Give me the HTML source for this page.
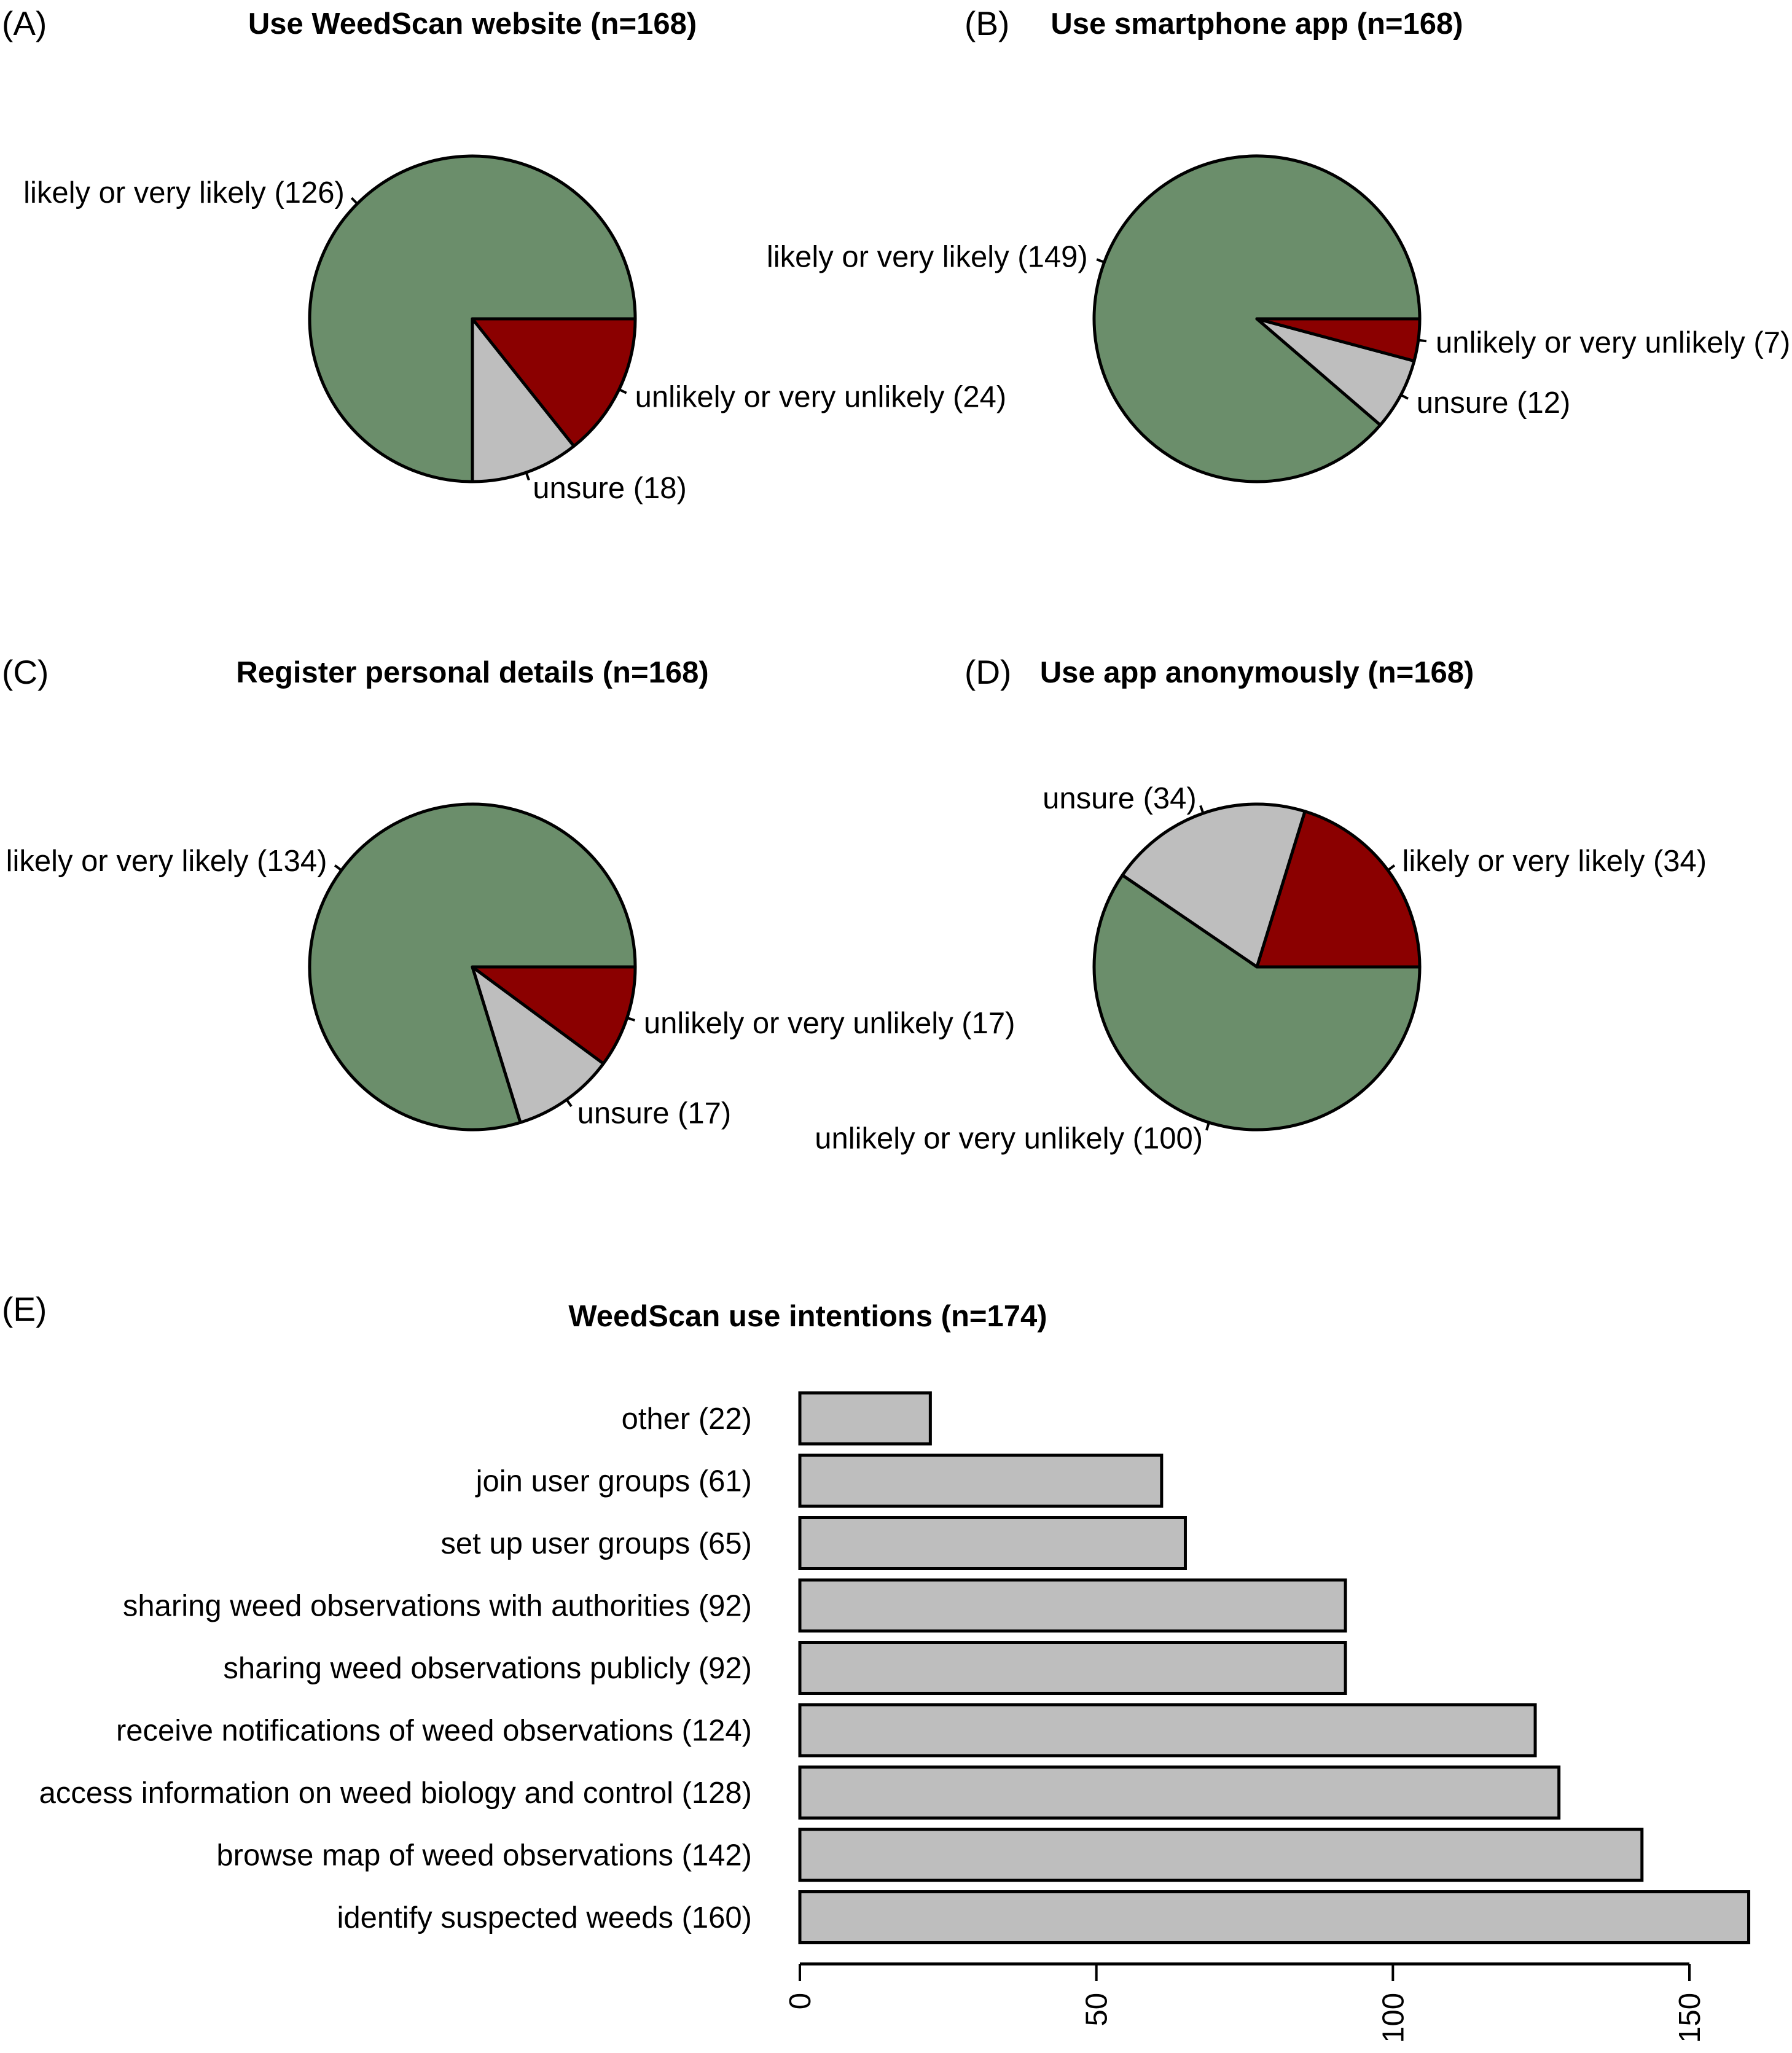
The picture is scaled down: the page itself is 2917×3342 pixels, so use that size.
<!DOCTYPE html>
<html><head><meta charset="utf-8"><style>
html,body{margin:0;padding:0;background:#fff;}
svg{display:block;font-family:"Liberation Sans",Arial,sans-serif;}
</style></head><body>
<svg id="fig" width="2917" height="3342" viewBox="0 0 2917 3342" xmlns="http://www.w3.org/2000/svg">
<rect width="2917" height="3342" fill="#fff"/>
</svg>
<script>
const pieTitles = ["Use WeedScan website (n=168)","Use smartphone app (n=168)","Register personal details (n=168)","Use app anonymously (n=168)"];
const pieLetters = ["(A)","(B)","(C)","(D)"];
const pieA_labels = ["likely or very likely","unsure","unlikely or very unlikely"];
const pieA_values = [126,18,24];
const pieB_labels = ["likely or very likely","unsure","unlikely or very unlikely"];
const pieB_values = [149,12,7];
const pieC_labels = ["likely or very likely","unsure","unlikely or very unlikely"];
const pieC_values = [134,17,17];
const pieD_labels = ["likely or very likely","unsure","unlikely or very unlikely"];
const pieD_values = [34,34,100];
const barCategories = ["other","join user groups","set up user groups","sharing weed observations with authorities","sharing weed observations publicly","receive notifications of weed observations","access information on weed biology and control","browse map of weed observations","identify suspected weeds"];
const barValues = [22,61,65,92,92,124,128,142,160];
const barTicks = [0,50,100,150];

const NS="http://www.w3.org/2000/svg";
const svg=document.getElementById('fig');
function mk(tag,attrs,parent){const e=document.createElementNS(NS,tag);for(const k in attrs)e.setAttribute(k,attrs[k]);(parent||svg).appendChild(e);return e;}
const GREEN="#6b8e6b",GREY="#bebebe",RED="#8b0000";
const FS=49, LFS=55;

const pies=[
 {cx:769,cy:519,labels:pieA_labels,values:pieA_values,colors:[GREEN,GREY,RED],lx:3,ty:38},
 {cx:2046,cy:519,labels:pieB_labels,values:pieB_values,colors:[GREEN,GREY,RED],lx:1570,ty:38},
 {cx:769,cy:1574,labels:pieC_labels,values:pieC_values,colors:[GREEN,GREY,RED],lx:3,ty:1094},
 {cx:2046,cy:1574,labels:pieD_labels,values:pieD_values,colors:[RED,GREY,GREEN],lx:1570,ty:1094}
];
const R=265;
pies.forEach((p,i)=>{
  const g=mk('g',{});
  
  
  const lt=mk('text',{x:p.lx,y:p.ty+19,'font-size':LFS},g);
  lt.textContent=pieLetters[i];
  
  
  const tt=mk('text',{x:p.cx,y:p.ty+17,'font-size':FS,'font-weight':'bold','text-anchor':'middle'},g);
  tt.textContent=pieTitles[i];
  
  
  const tot=p.values.reduce((a,b)=>a+b,0);
  let a0=0;
  p.values.forEach((v,j)=>{
    const a1=a0+v/tot*2*Math.PI;
    const x0=p.cx+R*Math.cos(a0),y0=p.cy-R*Math.sin(a0);
    const x1=p.cx+R*Math.cos(a1),y1=p.cy-R*Math.sin(a1);
    const large=(a1-a0)>Math.PI?1:0;
    const s=mk('path',{d:`M${p.cx},${p.cy} L${x0},${y0} A${R},${R} 0 ${large} 0 ${x1},${y1} Z`,fill:p.colors[j],stroke:'#000','stroke-width':5,'stroke-linejoin':'round'},g);
    
    
    const am=(a0+a1)/2,c=Math.cos(am),sn=Math.sin(am);
    mk('line',{x1:p.cx+R*c,y1:p.cy-R*sn,x2:p.cx+1.05*R*c,y2:p.cy-1.05*R*sn,stroke:'#000','stroke-width':4},g);
    const tx=p.cx+1.1*R*c,ty=p.cy-1.1*R*sn;
    const t=mk('text',{x:tx+(c>0?2:-2),y:ty+17,'font-size':FS,'text-anchor':c>0?'start':'end'},g);
    t.textContent=p.labels[j]+' ('+v+')';
    
    
    a0=a1;
  });
});

// bar chart
const bg=mk('g',{});


const X0=1302,PX=(2750-1302)/150;
const xs=v=>X0+v*PX;
const ys=i=>2309+i*101.5;
const BH=83;
const le=mk('text',{x:3,y:2150,'font-size':LFS},bg);le.textContent="(E)";


const et=mk('text',{x:1315,y:2159,'font-size':FS,'font-weight':'bold','text-anchor':'middle'},bg);
et.textContent="WeedScan use intentions (n=174)";


barValues.forEach((v,i)=>{
  const r=mk('rect',{x:xs(0),y:ys(i)-BH/2,width:xs(v)-xs(0),height:BH,fill:GREY,stroke:'#000','stroke-width':5},bg);
  
  
  const t=mk('text',{x:1224,y:ys(i)+17,'font-size':FS,'text-anchor':'end'},bg);
  t.textContent=barCategories[i]+' ('+v+')';
  
  
});
const ax=mk('line',{x1:xs(barTicks[0]),y1:3197,x2:xs(barTicks[barTicks.length-1]),y2:3197,stroke:'#000','stroke-width':5},bg);


barTicks.forEach(v=>{
  mk('line',{x1:xs(v),y1:3197,x2:xs(v),y2:3225,stroke:'#000','stroke-width':4},bg);
  const t=mk('text',{x:0,y:0,'font-size':FS,'text-anchor':'end',transform:`translate(${xs(v)+17},3244) rotate(-90)`},bg);
  t.textContent=String(v);
  
  
});
</script>
</body></html>
